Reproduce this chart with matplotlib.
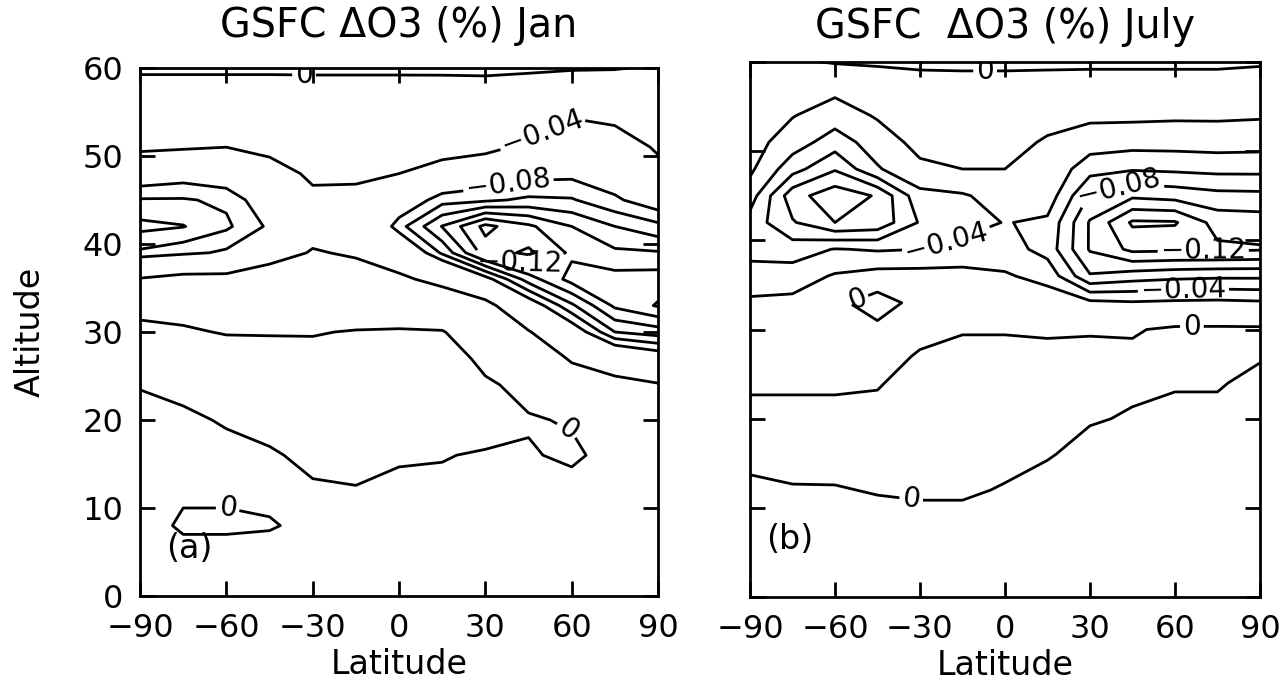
import matplotlib
matplotlib.use('Agg')
import matplotlib.pyplot as plt
import numpy as np

plt.rcParams['font.family'] = ['DejaVu Sans']

# grid: latitude columns, altitude rows (km)
lats = [-90, -75, -60, -45, -30, -15, 0, 15, 30, 45, 60, 75, 90]
alts = [0, 4, 8, 12, 16, 20, 24, 27, 30, 33, 36, 39, 42, 45, 48, 51, 54, 57, 60]

# GSFC dO3 (%) January, one row per altitude
jan_do3 = [
    [-0.006, -0.006, -0.005, -0.005, -0.005, -0.005, -0.005, -0.005, -0.005, -0.005, -0.005, -0.005, -0.005],
    [-0.006, -0.006, -0.006, -0.006, -0.005, -0.005, -0.005, -0.005, -0.005, -0.005, -0.005, -0.005, -0.005],
    [-0.006, 0.002, 0.002, 0.001, -0.003, -0.004, -0.005, -0.005, -0.005, -0.005, -0.005, -0.005, -0.005],
    [-0.010, -0.002, -0.002, -0.003, -0.002, -0.001, -0.004, -0.004, -0.005, -0.005, -0.004, -0.005, -0.005],
    [-0.010, -0.008, -0.006, -0.002, 0.004, 0.006, 0.002, 0.001, -0.002, -0.001, 0.002, -0.004, -0.005],
    [-0.006, -0.004, 0.002, 0.006, 0.010, 0.012, 0.010, 0.010, 0.010, 0.001, -0.001, -0.008, -0.010],
    [0.001, 0.006, 0.008, 0.010, 0.010, 0.012, 0.012, 0.012, 0.002, -0.004, -0.020, -0.030, -0.038],
    [0.010, 0.010, 0.008, 0.006, 0.005, 0.007, 0.008, 0.008, -0.004, -0.012, -0.044, -0.060, -0.070],
    [0.005, 0.002, -0.001, -0.001, -0.001, 0.001, 0.002, 0.001, -0.012, -0.038, -0.070, -0.100, -0.105],
    [-0.006, -0.006, -0.004, -0.005, -0.010, -0.012, -0.014, -0.015, -0.030, -0.070, -0.098, -0.122, -0.131],
    [-0.038, -0.030, -0.030, -0.024, -0.024, -0.028, -0.034, -0.050, -0.075, -0.105, -0.124, -0.124, -0.125],
    [-0.088, -0.083, -0.078, -0.052, -0.038, -0.043, -0.060, -0.092, -0.125, -0.132, -0.118, -0.112, -0.111],
    [-0.103, -0.1005, -0.092, -0.078, -0.050, -0.052, -0.086, -0.1105, -0.133, -0.122, -0.110, -0.100, -0.093],
    [-0.091, -0.091, -0.088, -0.070, -0.045, -0.046, -0.068, -0.086, -0.088, -0.092, -0.091, -0.082, -0.072],
    [-0.070, -0.074, -0.070, -0.050, -0.036, -0.036, -0.040, -0.062, -0.070, -0.076, -0.077, -0.072, -0.050],
    [-0.034, -0.037, -0.040, -0.034, -0.027, -0.027, -0.028, -0.020, -0.030, -0.048, -0.060, -0.058, -0.036],
    [-0.022, -0.024, -0.024, -0.022, -0.019, -0.019, -0.019, -0.014, -0.014, -0.025, -0.042, -0.036, -0.026],
    [-0.012, -0.012, -0.012, -0.012, -0.011, -0.011, -0.011, -0.008, -0.007, -0.008, -0.010, -0.015, -0.015],
    [0.004, 0.004, 0.004, 0.004, 0.004, 0.004, 0.004, 0.003, 0.003, 0.002, 0.001, 0.001, -0.002],
]

# GSFC dO3 (%) July, one row per altitude
jul_do3 = [
    [-0.010] * 13,
    [-0.010] * 13,
    [-0.008, -0.007, -0.007, -0.006, -0.005, -0.005, -0.006, -0.008, -0.009, -0.009, -0.009, -0.009, -0.009],
    [-0.003, -0.001, -0.001, 0.001, 0.002, 0.002, -0.001, -0.005, -0.008, -0.008, -0.008, -0.008, -0.008],
    [0.004, 0.005, 0.006, 0.006, 0.006, 0.006, 0.004, 0.001, -0.004, -0.005, -0.006, -0.006, -0.007],
    [0.004, 0.004, 0.004, 0.004, 0.007, 0.008, 0.008, 0.006, 0.001, -0.001, -0.003, -0.003, -0.005],
    [-0.002, -0.002, -0.002, -0.001, 0.005, 0.007, 0.008, 0.006, 0.005, 0.002, 0.001, 0.001, -0.003],
    [-0.006, -0.006, -0.006, -0.004, 0.001, 0.004, 0.004, 0.002, 0.003, 0.002, 0.004, 0.004, 0.001],
    [-0.010, -0.009, -0.008, -0.004, -0.003, -0.001, -0.001, -0.001, -0.001, -0.001, 0.002, 0.002, 0.002],
    [-0.017, -0.015, -0.004, 0.008, -0.006, -0.007, -0.008, -0.010, -0.015, -0.018, -0.016, -0.015, -0.017],
    [-0.030, -0.030, -0.018, -0.012, -0.012, -0.014, -0.018, -0.026, -0.078, -0.070, -0.066, -0.064, -0.064],
    [-0.048, -0.050, -0.039, -0.042, -0.040, -0.032, -0.030, -0.048, -0.102, -0.125, -0.124, -0.124, -0.122],
    [-0.048, -0.078, -0.100, -0.094, -0.058, -0.050, -0.039, -0.044, -0.102, -0.143, -0.142, -0.112, -0.110],
    [-0.030, -0.092, -0.112, -0.098, -0.046, -0.042, -0.032, -0.028, -0.082, -0.096, -0.092, -0.086, -0.085],
    [-0.016, -0.052, -0.078, -0.042, -0.024, -0.020, -0.020, -0.024, -0.052, -0.058, -0.056, -0.054, -0.054],
    [-0.012, -0.030, -0.050, -0.030, -0.014, -0.013, -0.014, -0.022, -0.030, -0.032, -0.032, -0.031, -0.032],
    [-0.010, -0.019, -0.030, -0.018, -0.010, -0.009, -0.010, -0.014, -0.016, -0.016, -0.017, -0.017, -0.018],
    [-0.008, -0.010, -0.015, -0.010, -0.007, -0.006, -0.006, -0.007, -0.008, -0.008, -0.008, -0.008, -0.010],
    [-0.005, -0.002, 0.001, 0.002, 0.003, 0.003, 0.003, 0.003, 0.003, 0.003, 0.003, 0.003, 0.002],
]

# contour levels as labelled in each panel
jan_levels = [-0.13, -0.12, -0.11, -0.10, -0.09, -0.08, -0.04, 0.0]
jul_levels = [-0.14, -0.12, -0.10, -0.08, -0.06, -0.04, -0.02, 0.0]

# where the labelled contours carry their numbers: (latitude, altitude)
jan_labels = [(-33, 59.6), (50, 52.6), (38, 46.8), (42, 37.9), (57, 18.0), (-60, 9.2)]
jul_labels = [(-7, 59.7), (-21, 40.3), (-52, 33.2), (-33, 11.2),
              (40, 46.3), (70, 39.6), (63, 34.5), (66, 30.4)]


def fmt(v):
    if abs(v) < 1e-9:
        return '0'
    return f'{v:.2f}'.replace('-', '\u2212')


fig = plt.figure(figsize=(12.8, 6.82), dpi=100)
ax1 = fig.add_axes([0.1094, 0.1261, 0.4047, 0.7742])
ax2 = fig.add_axes([0.5859, 0.1246, 0.3984, 0.7845])


def draw(ax, z, levels, labels, title, title_pad, tag, tag_lat, tag_alt, show_y):
    cs = ax.contour(lats, alts, np.array(z), levels=levels, colors='black',
                    linewidths=2.0, linestyles='solid')
    ax.clabel(cs, manual=labels, inline=True, fmt=fmt, fontsize=20, inline_spacing=3)
    ax.set_xlim(-90, 90)
    ax.set_ylim(0, 60)
    ax.set_xticks([-90, -60, -30, 0, 30, 60, 90])
    ax.set_yticks([0, 10, 20, 30, 40, 50, 60])
    ax.tick_params(direction='in', length=11, width=2.0, top=True, right=True,
                   labelsize=23, labelleft=show_y)
    ax.tick_params(axis='x', pad=12)
    ax.tick_params(axis='y', pad=12)
    for s in ax.spines.values():
        s.set_linewidth(2.0)
    ax.set_title(title, fontsize=28.5, pad=title_pad)
    ax.set_xlabel('Latitude', fontsize=24, labelpad=3)
    ax.text(tag_lat, tag_alt, tag, fontsize=24, ha='center', va='center')


draw(ax1, jan_do3, jan_levels, jan_labels, 'GSFC \u0394O3 (%) Jan', 22,
     '(a)', -73, 5.4, True)
draw(ax2, jul_do3, jul_levels, jul_labels, 'GSFC  \u0394O3 (%) July', 17.5,
     '(b)', -76, 6.4, False)
ax1.set_ylabel('Altitude', fontsize=24, labelpad=26)

fig.savefig('out.png', dpi=100)
